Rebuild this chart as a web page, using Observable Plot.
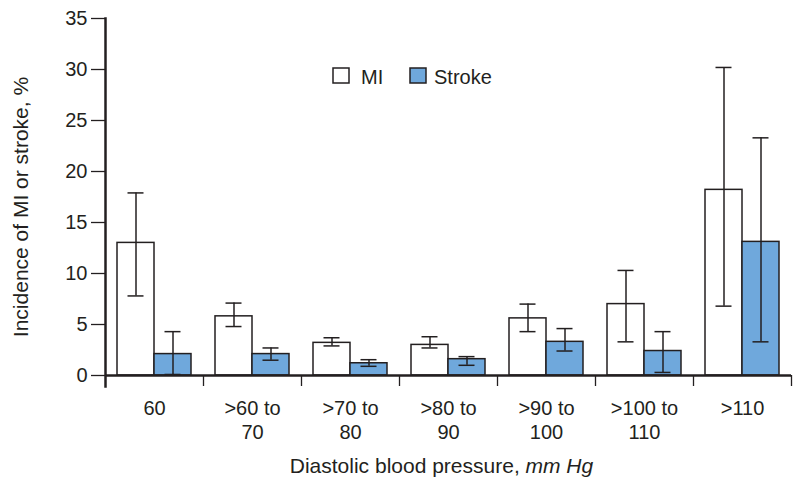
<!DOCTYPE html>
<html><head><meta charset="utf-8">
<script src="https://cdn.jsdelivr.net/npm/d3@7"></script>
<script src="https://cdn.jsdelivr.net/npm/@observablehq/plot@0.6"></script>
<style>
html,body{margin:0;padding:0;background:#fff;}
#chart{position:relative;width:793px;height:477px;}
</style></head><body><div id="chart"></div>
<script>
// ---- data ----
const categories = ["60", ">60 to\n70", ">70 to\n80", ">80 to\n90", ">90 to\n100", ">100 to\n110", ">110"];
const series = ["MI", "Stroke"];
const miValues   = [13.0, 5.8, 3.2, 3.0, 5.6, 7.0, 18.2];
const miLower    = [7.8, 4.8, 2.9, 2.7, 4.3, 3.3, 6.8];
const miUpper    = [17.9, 7.1, 3.7, 3.8, 7.0, 10.3, 30.2];
const strokeValues = [2.1, 2.1, 1.2, 1.6, 3.3, 2.4, 13.1];
const strokeLower  = [0.1, 1.5, 0.9, 1.0, 2.4, 0.3, 3.3];
const strokeUpper  = [4.3, 2.7, 1.55, 1.85, 4.6, 4.3, 23.3];
const yTicks = [0, 5, 10, 15, 20, 25, 30, 35];
const xTitle = "Diastolic blood pressure, ";
const xTitleUnit = "mm Hg";
const yTitle = "Incidence of MI or stroke, %";

// ---- layout ----
const W = 793, H = 477, mL = 105, mR = 2, mT = 18, mB = 102;
const step = (W - mL - mR) / categories.length;
const barW = 37;
const outer = (step - 2 * barW) / 2;
const capW = 16;
const blue = "#6fa8dc", ink = "#231f20";
const font = "'Liberation Sans', Arial, Helvetica, sans-serif";

const rows = categories.flatMap((c, i) => [
  {cat: c, series: series[0], value: miValues[i], lo: miLower[i], hi: miUpper[i]},
  {cat: c, series: series[1], value: strokeValues[i], lo: strokeLower[i], hi: strokeUpper[i]}
]);
const mi = rows.filter(d => d.series === series[0]);
const st = rows.filter(d => d.series === series[1]);

const capMI = {insetLeft: outer + (barW - capW) / 2, insetRight: step - outer - (barW + capW) / 2};
const capST = {insetLeft: outer + barW + (barW - capW) / 2, insetRight: outer + (barW - capW) / 2};
const eb = {stroke: ink, strokeWidth: 1.5};

const plot = Plot.plot({
  width: W, height: H,
  marginLeft: mL, marginRight: mR, marginTop: mT, marginBottom: mB,
  style: {fontFamily: font, fontSize: "20px", color: ink, background: "white"},
  x: {type: "band", domain: categories, padding: 0, label: null},
  y: {domain: [0, 35], label: null},
  color: {domain: series, range: ["white", blue]},
  marks: [
    Plot.barY(mi, {x: "cat", y: "value", fill: "series", stroke: ink, strokeWidth: 1.5,
      insetLeft: outer, insetRight: step - outer - barW}),
    Plot.barY(st, {x: "cat", y: "value", fill: "series", stroke: ink, strokeWidth: 1.5,
      insetLeft: outer + barW, insetRight: outer}),
    Plot.ruleX(mi, {x: "cat", y1: "lo", y2: "hi", dx: -barW / 2, ...eb}),
    Plot.ruleX(st, {x: "cat", y1: "lo", y2: "hi", dx: barW / 2, ...eb}),
    Plot.tickY(mi, {x: "cat", y: "hi", ...capMI, ...eb}),
    Plot.tickY(mi, {x: "cat", y: "lo", ...capMI, ...eb}),
    Plot.tickY(st, {x: "cat", y: "hi", ...capST, ...eb}),
    Plot.tickY(st, {x: "cat", y: "lo", ...capST, ...eb}),
    Plot.ruleY([0], {stroke: ink, strokeWidth: 2.5}),
    Plot.frame({anchor: "left", stroke: ink, strokeWidth: 2.5, insetBottom: -11}),
    Plot.axisY({ticks: yTicks, tickSize: 14, tickPadding: 4, fontSize: 20, strokeWidth: 1.3, label: null}),
    Plot.axisX({ticks: categories, tickSize: 11, dx: step / 2, tickFormat: () => "", strokeWidth: 1.3, label: null}),
    Plot.axisX({ticks: categories, tickSize: 0, tickPadding: 23, lineHeight: 1.18, fontSize: 20, label: null})
  ]
});

const svg = d3.select(plot);
// x title
const xt = svg.append("text")
  .attr("x", 441.5).attr("y", 473)
  .attr("text-anchor", "middle")
  .attr("font-size", 21).attr("fill", ink);
xt.append("tspan").text(xTitle);
xt.append("tspan").attr("font-style", "italic").text(xTitleUnit);
// y title
svg.append("text")
  .attr("transform", "translate(28,207) rotate(-90)")
  .attr("text-anchor", "middle")
  .attr("font-size", 21).attr("fill", ink)
  .text(yTitle);
// legend
const legend = svg.append("g").attr("font-size", 20).attr("fill", ink).attr("text-anchor", "start");
const legendX = [333, 410];
series.forEach((s, i) => {
  legend.append("rect")
    .attr("x", legendX[i]).attr("y", 68).attr("width", 16).attr("height", 15)
    .attr("fill", i === 0 ? "white" : blue).attr("stroke", ink).attr("stroke-width", 1.5);
  legend.append("text")
    .attr("x", legendX[i] + (i === 0 ? 28 : 24)).attr("y", 83.5)
    .attr("text-anchor", "start")
    .text(s);
});

document.getElementById("chart").appendChild(plot);
</script>
</body></html>
